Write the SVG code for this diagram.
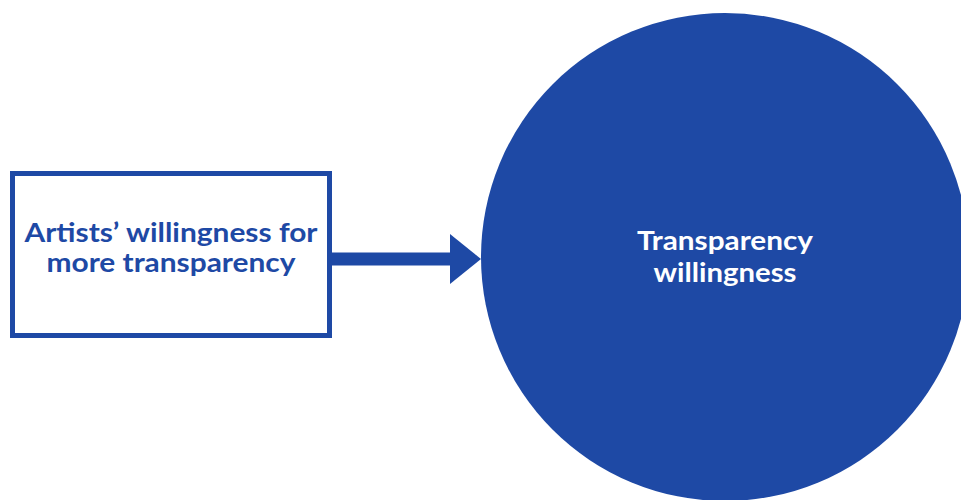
<svg xmlns="http://www.w3.org/2000/svg" width="961" height="500" viewBox="0 0 961 500">
<style>
.lbl{font-family:Lato,"Open Sans","Liberation Sans",sans-serif;font-weight:bold;font-size:27px;text-anchor:middle}
.blue{fill:#1E49A5}
</style>
<rect width="961" height="500" fill="#ffffff"/>
<g id="connectors">
<rect x="331" y="252.5" width="120" height="13" class="blue"/>
<polygon points="450,234 481,259 450,284" class="blue"/>
</g>
<g id="node-artists">
<rect x="12.5" y="173.5" width="317" height="162" fill="#ffffff" stroke="#1E49A5" stroke-width="5"/>
<text class="lbl blue" x="171" y="242" textLength="293" lengthAdjust="spacingAndGlyphs">Artists’ willingness for</text>
<text class="lbl blue" x="171" y="272" textLength="249" lengthAdjust="spacingAndGlyphs">more transparency</text>
</g>
<g id="node-transparency">
<circle cx="725" cy="257" r="244" class="blue"/>
<text class="lbl" fill="#ffffff" x="725" y="250" textLength="176" lengthAdjust="spacingAndGlyphs">Transparency</text>
<text class="lbl" fill="#ffffff" x="725" y="282" textLength="143" lengthAdjust="spacingAndGlyphs">willingness</text>
</g>
</svg>
